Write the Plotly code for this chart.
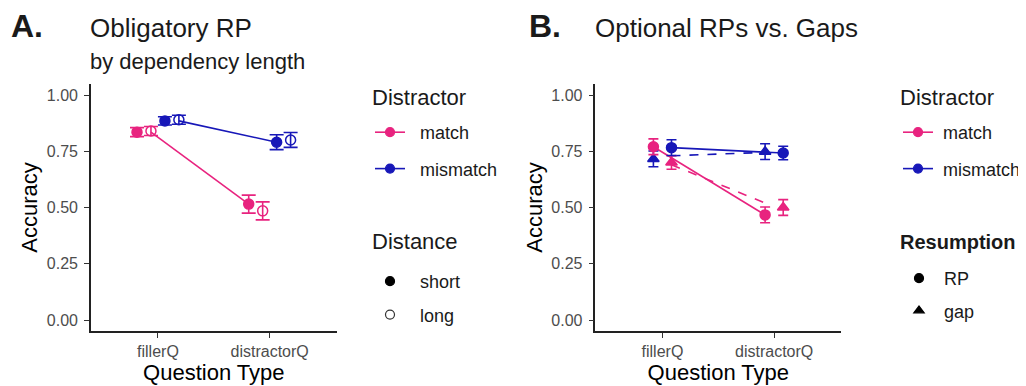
import plotly.graph_objects as go

# page body has an 8px margin: shift everything by 8px
OFF = 8
W, H = 1026 - OFF, 386 - OFF
def fx(px): return (px - OFF) / W
def fy(py): return 1 - (py - OFF) / H

categories = ["fillerQ", "distractorQ"]
cat_pos = [1, 2]

# Panel A: Obligatory RP by dependency length
A_match_short = [0.835, 0.515]
A_match_short_err = [0.02, 0.04]
A_match_long = [0.84, 0.485]
A_match_long_err = [0.02, 0.04]
A_mismatch_short = [0.885, 0.79]
A_mismatch_short_err = [0.018, 0.033]
A_mismatch_long = [0.89, 0.80]
A_mismatch_long_err = [0.02, 0.033]
A_line_match = [0.835, 0.515]
A_line_mismatch = [0.885, 0.79]

# Panel B: Optional RPs vs Gaps
B_match_RP = [0.77, 0.467]
B_match_RP_err = [0.035, 0.035]
B_match_gap = [0.70, 0.50]
B_match_gap_err = [0.03, 0.035]
B_mismatch_RP = [0.766, 0.742]
B_mismatch_RP_err = [0.035, 0.03]
B_mismatch_gap = [0.716, 0.748]
B_mismatch_gap_err = [0.035, 0.035]
B_line_match_RP = [0.77, 0.467]
B_line_mismatch_RP = [0.766, 0.742]
B_line_match_gap = [0.69, 0.52]
B_line_mismatch_gap = [0.73, 0.745]

PINK = "#E8237F"
BLUE = "#1717B8"
FONT = "Liberation Sans, Arial, sans-serif"
NB = "\u00a0"

fig = go.Figure()

def shift(offs):
    return [c + o for c, o in zip(cat_pos, offs)]

# ---- Panel A lines
fig.add_trace(go.Scatter(x=shift([-0.0625, -0.1875]), y=A_line_match, mode="lines",
                         line=dict(color=PINK, width=1.6), showlegend=False, xaxis="x", yaxis="y"))
fig.add_trace(go.Scatter(x=shift([0.1875, 0.0625]), y=A_line_mismatch, mode="lines",
                         line=dict(color=BLUE, width=1.6), showlegend=False, xaxis="x", yaxis="y"))

def pts(x, y, err, color, symbol, xa, ya, cap=7, size=10):
    fig.add_trace(go.Scatter(
        x=x, y=y, mode="markers",
        marker=dict(color=color, symbol=symbol, size=size, line=dict(color=color, width=1.5)),
        error_y=dict(type="data", array=err, color=color, thickness=1.6, width=cap),
        showlegend=False, xaxis=xa, yaxis=ya))

pts(shift([-0.1875] * 2), A_match_short, A_match_short_err, PINK, "circle", "x", "y")
pts(shift([-0.0625] * 2), A_match_long, A_match_long_err, PINK, "circle-open", "x", "y")
pts(shift([0.0625] * 2), A_mismatch_short, A_mismatch_short_err, BLUE, "circle", "x", "y")
pts(shift([0.1875] * 2), A_mismatch_long, A_mismatch_long_err, BLUE, "circle-open", "x", "y")

# ---- Panel B lines
d = 0.081
fig.add_trace(go.Scatter(x=shift([-d, -d]), y=B_line_match_RP, mode="lines",
                         line=dict(color=PINK, width=1.6), showlegend=False, xaxis="x2", yaxis="y2"))
fig.add_trace(go.Scatter(x=shift([d, d]), y=B_line_mismatch_RP, mode="lines",
                         line=dict(color=BLUE, width=1.6), showlegend=False, xaxis="x2", yaxis="y2"))
fig.add_trace(go.Scatter(x=shift([d, -d]), y=B_line_match_gap, mode="lines",
                         line=dict(color=PINK, width=1.6, dash="dash"), showlegend=False, xaxis="x2", yaxis="y2"))
fig.add_trace(go.Scatter(x=shift([d, -d]), y=B_line_mismatch_gap, mode="lines",
                         line=dict(color=BLUE, width=1.6, dash="dash"), showlegend=False, xaxis="x2", yaxis="y2"))

pts(shift([-d] * 2), B_mismatch_gap, B_mismatch_gap_err, BLUE, "triangle-up", "x2", "y2", cap=5)
pts(shift([-d] * 2), B_match_RP, B_match_RP_err, PINK, "circle", "x2", "y2", cap=5)
pts(shift([d] * 2), B_match_gap, B_match_gap_err, PINK, "triangle-up", "x2", "y2", cap=5)
pts(shift([d] * 2), B_mismatch_RP, B_mismatch_RP_err, BLUE, "circle", "x2", "y2", cap=5)

# ---- Legend entries (dummy traces)
def leg(name, legend, color, symbol, mode, group):
    fig.add_trace(go.Scatter(x=[None], y=[None], name=name, mode=mode, legend=legend,
                             legendgroup=group,
                             marker=dict(color=color, symbol=symbol, size=9,
                                         line=dict(color=color, width=1.2)),
                             line=dict(color=color, width=1.6),
                             xaxis="x", yaxis="y"))

leg(NB * 2 + "match", "legend", PINK, "circle", "lines+markers", "a1")
leg(NB * 2 + "mismatch", "legend", BLUE, "circle", "lines+markers", "a2")
leg(NB * 2 + "short", "legend2", "black", "circle", "markers", "b1")
leg(NB * 2 + "long", "legend2", "#333333", "circle-open", "markers", "b2")
leg(NB + "match", "legend3", PINK, "circle", "lines+markers", "c1")
leg(NB + "mismatch", "legend3", BLUE, "circle", "lines+markers", "c2")
leg(NB + "RP", "legend4", "black", "circle", "markers", "d1")
leg(NB + "gap", "legend4", "black", "triangle-up", "markers", "d2")

axis_common = dict(
    showline=True, linecolor="#222222", linewidth=1.5, showgrid=False, zeroline=False,
    ticks="outside", ticklen=5, tickcolor="#333333", tickwidth=1.2,
    tickfont=dict(family=FONT, size=16, color="#4D4D4D"),
)

def xax(d0, d1):
    return dict(axis_common, domain=[fx(d0), fx(d1)], range=[0.4, 2.6],
                tickvals=cat_pos, ticktext=categories,
                title=dict(text="Question Type", font=dict(family=FONT, size=22, color="black"),
                           standoff=2))

def yax(x_anchor):
    return dict(axis_common, domain=[fy(331.25), fy(83.75)], range=[-0.05, 1.05],
                tickvals=[0, 0.25, 0.5, 0.75, 1.0], ticktext=["0.00", "0.25", "0.50", "0.75", "1.00"],
                anchor=x_anchor, ticklabelstandoff=3,
                title=dict(text="Accuracy", font=dict(family=FONT, size=22, color="black"), standoff=3))

leg_common = dict(bgcolor="rgba(0,0,0,0)", font=dict(family=FONT, size=18, color="#1a1a1a"),
                  xanchor="left", yanchor="top", itemwidth=30)

fig.update_layout(
    width=W, height=H, margin=dict(l=0, r=0, t=0, b=0),
    paper_bgcolor="white", plot_bgcolor="white",
    xaxis=xax(91, 337) | dict(anchor="y"),
    yaxis=yax("x"),
    xaxis2=xax(596, 842) | dict(anchor="y2"),
    yaxis2=yax("x2"),
    legend=dict(leg_common, x=fx(370), y=fy(114), tracegroupgap=10),
    legend2=dict(leg_common, x=fx(370), y=fy(263), tracegroupgap=7),
    legend3=dict(leg_common, x=fx(899), y=fy(114), tracegroupgap=10),
    legend4=dict(leg_common, x=fx(899), y=fy(260), tracegroupgap=6),
    showlegend=True,
)

ann = [
    dict(text="<b>A.</b>", x=fx(9), y=fy(26), size=32),
    dict(text="Obligatory RP", x=fx(88), y=fy(28), size=26),
    dict(text="by dependency length", x=fx(88), y=fy(61), size=22),
    dict(text="<b>B.</b>", x=fx(528), y=fy(26), size=32),
    dict(text="Optional RPs vs. Gaps", x=fx(594), y=fy(28), size=26),
    dict(text="Distractor", x=fx(370), y=fy(97), size=22),
    dict(text="Distance", x=fx(370), y=fy(241), size=22),
    dict(text="Distractor", x=fx(899), y=fy(97), size=22),
    dict(text="<b>Resumption</b>", x=fx(899), y=fy(242), size=20),
]
for a in ann:
    fig.add_annotation(text=a["text"], x=a["x"], y=a["y"], xref="paper", yref="paper",
                       xanchor="left", yanchor="middle", showarrow=False,
                       font=dict(family=FONT, size=a["size"], color="#1a1a1a"))

fig.write_html("out.html")
